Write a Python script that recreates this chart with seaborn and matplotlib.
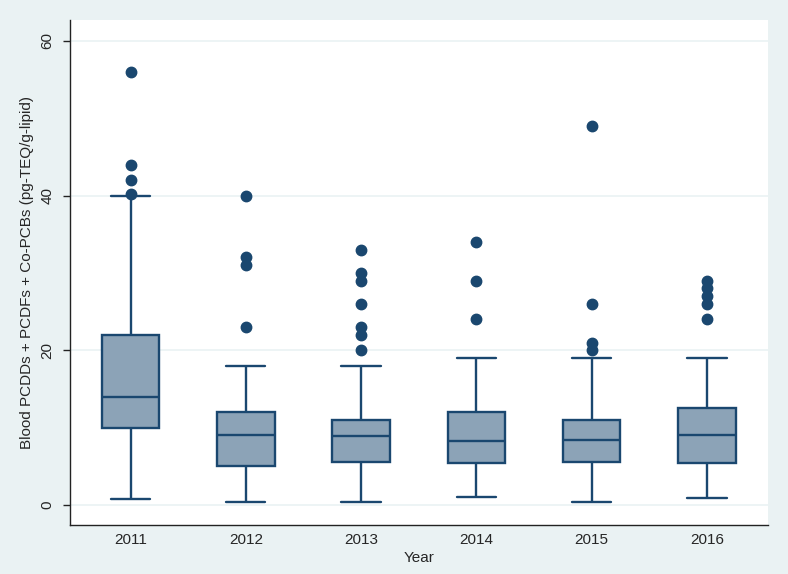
import matplotlib
matplotlib.use("Agg")
import matplotlib.pyplot as plt
import seaborn as sns
import pandas as pd

# box summary values (pg-TEQ/g-lipid)
years = ["2011", "2012", "2013", "2014", "2015", "2016"]
whisker_low = [0.8, 0.4, 0.4, 1.1, 0.4, 0.9]
q1 = [10.0, 5.1, 5.5, 5.4, 5.5, 5.4]
median = [14.0, 9.0, 8.9, 8.3, 8.4, 9.0]
q3 = [22.0, 12.0, 11.0, 12.0, 11.0, 12.5]
whisker_high = [40.0, 18.0, 18.0, 19.0, 19.0, 19.0]
outliers = [
    [40.2, 42.0, 44.0, 56.0],
    [23.0, 31.0, 32.0, 40.0],
    [20.0, 22.0, 23.0, 26.0, 29.0, 30.0, 33.0],
    [24.0, 29.0, 34.0],
    [20.0, 21.0, 26.0, 49.0],
    [24.0, 26.0, 27.0, 28.0, 29.0],
]

# long table for seaborn: each quartile repeated so the box statistics land on the read values
rows = []
for i, yr in enumerate(years):
    vals = [whisker_low[i]] + [q1[i]] * 20 + [median[i]] * 20 + [q3[i]] * 20 + [whisker_high[i]] + outliers[i]
    rows += [(yr, v) for v in vals]
df = pd.DataFrame(rows, columns=["Year", "value"])

navy = "#1A476F"
bg = "#EAF2F3"

sns.set_style("white")
plt.rcParams["font.family"] = ["Liberation Sans", "DejaVu Sans"]

fig = plt.figure(figsize=(7.88, 5.74), dpi=100, facecolor=bg)
ax = fig.add_axes([70 / 788, 49 / 574, 698 / 788, 505 / 574])
ax.set_facecolor("white")

sns.boxplot(data=df, x="Year", y="value", order=years, ax=ax,
            color="#8CA3B7", linecolor=navy, saturation=1, width=0.5,
            linewidth=1.7, whis=1.5, capwidths=0.34,
            flierprops=dict(marker="o", markerfacecolor=navy, markeredgecolor=navy, markersize=7.5))

ax.set_ylim(-2.58, 62.68)
ax.set_xlim(-0.525, 5.53)
ax.set_yticks([0, 20, 40, 60])
ax.yaxis.grid(True, color=bg, linewidth=1.2)
ax.set_axisbelow(True)

for side in ["top", "right"]:
    ax.spines[side].set_visible(False)
for side in ["left", "bottom"]:
    ax.spines[side].set_color("#222222")
    ax.spines[side].set_linewidth(1.0)

ax.tick_params(axis="y", left=True, length=5, width=1, color="#222222", pad=6, labelsize=11)
ax.tick_params(axis="x", length=0, pad=6, labelsize=11)
for lbl in ax.get_yticklabels():
    lbl.set_rotation(90)
    lbl.set_va("center")

ax.set_xlabel("Year", fontsize=11, labelpad=3)
ax.set_ylabel("Blood PCDDs + PCDFs + Co-PCBs (pg-TEQ/g-lipid)", fontsize=11, labelpad=5)

fig.savefig("out.png", dpi=100, facecolor=bg)
